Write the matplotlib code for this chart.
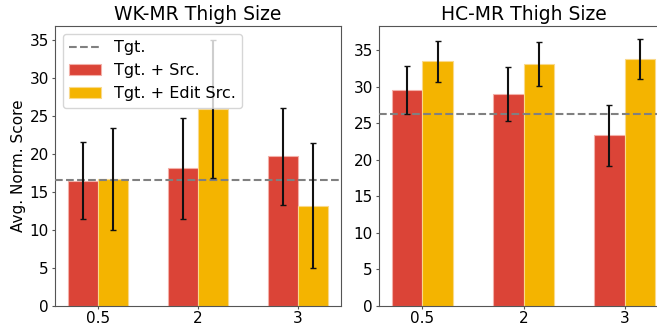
import matplotlib.pyplot as plt
import numpy as np

# categories on the x axis
categories = ['0.5', '2', '3']

# WK-MR thigh size
wk_src = [16.5, 18.1, 19.7]
wk_src_err = [5.1, 6.7, 6.4]
wk_edit = [16.7, 25.9, 13.2]
wk_edit_err = [6.7, 9.1, 8.2]
wk_tgt = 16.6

# HC-MR thigh size
hc_src = [29.55, 29.05, 23.35]
hc_src_err = [3.25, 3.7, 4.2]
hc_edit = [33.5, 33.1, 33.8]
hc_edit_err = [2.8, 3.0, 2.7]
hc_tgt = 26.2

red = '#DB4437'
yellow = '#F4B400'

plt.rcParams['font.size'] = 11

fig = plt.figure(figsize=(6.57, 3.25), dpi=100)
ax1 = fig.add_axes([0.0837, 0.0585, 0.435, 0.8615])
ax2 = fig.add_axes([0.5769, 0.0585, 0.44, 0.8615])

x = np.arange(len(categories))
w = 0.3


def draw(ax, src, src_err, edit, edit_err, tgt, title, ytop):
    ax.axhline(tgt, color='gray', linestyle='--', linewidth=1.5, label='Tgt.', zorder=3)
    ax.bar(x - w / 2, src, w, color=red, edgecolor='#f3b0a8', linewidth=0.8,
           label='Tgt. + Src.', zorder=2)
    ax.bar(x + w / 2, edit, w, color=yellow, edgecolor='#f9d98a', linewidth=0.8,
           label='Tgt. + Edit Src.', zorder=2)
    ax.errorbar(x - w / 2, src, yerr=src_err, fmt='none', ecolor='#111111',
                elinewidth=1.5, capsize=2.5, capthick=1, zorder=4)
    ax.errorbar(x + w / 2, edit, yerr=edit_err, fmt='none', ecolor='#111111',
                elinewidth=1.5, capsize=2.5, capthick=1, zorder=4)
    ax.set_xticks(x)
    ax.set_xticklabels(categories)
    ax.set_xlim(-0.43, 2.43)
    ax.set_ylim(0, ytop)
    ax.set_yticks(range(0, 36, 5))
    ax.tick_params(length=2.5, pad=2, labelsize=11, color='#555555')
    ax.tick_params(axis='x', pad=1)
    ax.set_title(title, fontsize=13.5, pad=4)
    for s in ax.spines.values():
        s.set_color('#555555')


draw(ax1, wk_src, wk_src_err, wk_edit, wk_edit_err, wk_tgt, 'WK-MR Thigh Size', 36.85)
draw(ax2, hc_src, hc_src_err, hc_edit, hc_edit_err, hc_tgt, 'HC-MR Thigh Size', 38.3)

ax1.set_ylabel('Avg. Norm. Score', fontsize=11)
ax1.yaxis.set_label_coords(-0.1, 0.5)
ax1.legend(loc='upper left', fontsize=11.5)

fig.savefig('out.png', dpi=100)
